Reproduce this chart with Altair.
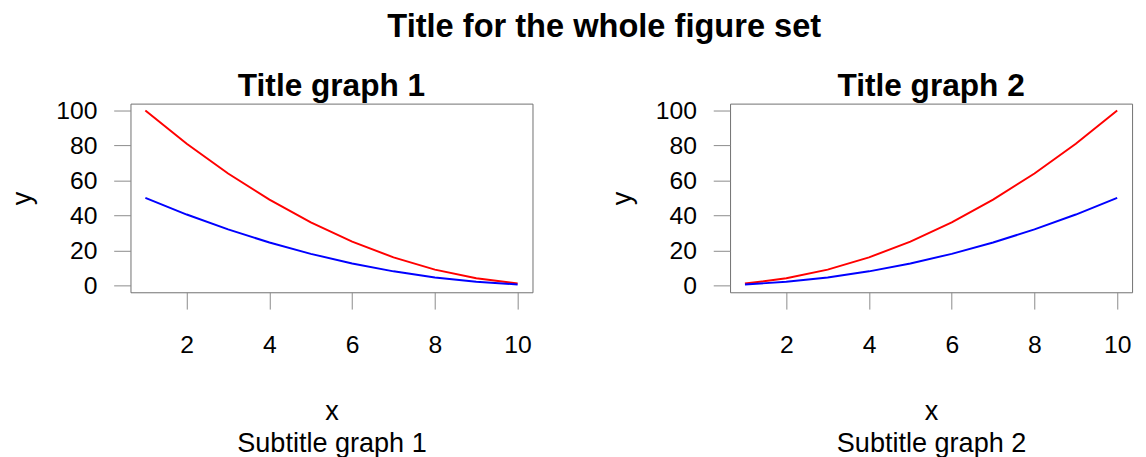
import altair as alt
import pandas as pd

# ---- data ----
x_vals = [1, 2, 3, 4, 5, 6, 7, 8, 9, 10]
g1_red = [100, 81, 64, 49, 36, 25, 16, 9, 4, 1]
g1_blue = [50, 40.5, 32, 24.5, 18, 12.5, 8, 4.5, 2, 0.5]
g2_red = [1, 4, 9, 16, 25, 36, 49, 64, 81, 100]
g2_blue = [0.5, 2, 4.5, 8, 12.5, 18, 24.5, 32, 40.5, 50]
x_ticks = [2, 4, 6, 8, 10]
y_ticks = [0, 20, 40, 60, 80, 100]
series_names = ["red", "blue"]
series_colors = ["#FF0000", "#0000FF"]

FONT = "Liberation Sans"


def make_df(red, blue):
    rows = []
    for xv, yv in zip(x_vals, red):
        rows.append({"x": xv, "y": yv, "s": "red"})
    for xv, yv in zip(x_vals, blue):
        rows.append({"x": xv, "y": yv, "s": "blue"})
    return pd.DataFrame(rows)


def panel(title, subtitle, red, blue):
    df = make_df(red, blue)
    return (
        alt.Chart(df)
        .mark_line(strokeWidth=2)
        .encode(
            x=alt.X(
                "x:Q",
                scale=alt.Scale(domain=[0.64, 10.36], nice=False, zero=False),
                axis=alt.Axis(values=x_ticks, title=["x", subtitle], format="d"),
            ),
            y=alt.Y(
                "y:Q",
                scale=alt.Scale(domain=[-3.98, 103.98], nice=False, zero=False),
                axis=alt.Axis(values=y_ticks, title="y", format="d"),
            ),
            color=alt.Color(
                "s:N",
                scale=alt.Scale(domain=series_names, range=series_colors),
                legend=None,
            ),
        )
        .properties(
            width=407,
            height=191,
            title=alt.TitleParams(
                title,
                frame="group",
                anchor="middle",
                font=FONT,
                fontSize=32,
                fontWeight="bold",
                color="black",
                offset=-4,
            ),
        )
    )


left = panel("Title graph 1", "Subtitle graph 1", g1_red, g1_blue)
right = panel("Title graph 2", "Subtitle graph 2", g2_red, g2_blue)

chart = (
    alt.hconcat(left, right, spacing=75)
    .properties(
        padding={"left": 0, "top": 0, "right": 5, "bottom": 0},
        title=alt.TitleParams(
            "Title for the whole figure set",
            anchor="middle",
            font=FONT,
            fontSize=33,
            fontWeight="bold",
            color="black",
            dx=34,
            offset=26,
        ),
    )
    .configure_view(stroke="#707070", strokeWidth=1)
    .configure_axis(
        grid=False,
        domain=False,
        ticks=True,
        tickSize=17,
        tickColor="#8a8a8a",
        tickWidth=1,
        labelFont=FONT,
        labelFontSize=25,
        labelColor="black",
        titleFont=FONT,
        titleFontSize=27.4,
        titleFontWeight="normal",
        titleColor="black",
    )
    .configure_axisX(labelPadding=24, titlePadding=40.5, titleLineHeight=32.7)
    .configure_axisY(labelPadding=17, titlePadding=19)
)

chart.save("out.html", embed_options={"renderer": "svg", "actions": False})
